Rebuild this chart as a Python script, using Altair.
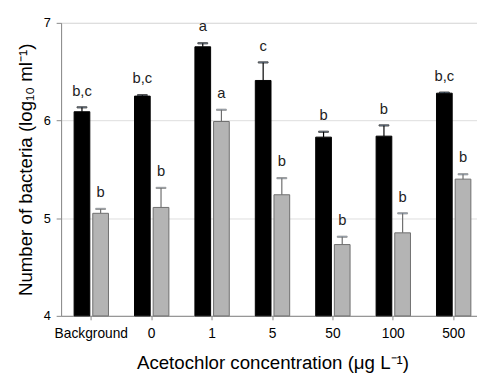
import altair as alt
import pandas as pd

categories = ["Background", "0", "1", "5", "50", "100", "500"]
series = ["Total", "Culturable"]
black_mean = [6.09, 6.25, 6.755, 6.41, 5.83, 5.84, 6.28]
black_err = [0.045, 0.01, 0.036, 0.185, 0.055, 0.11, 0.006]
black_letters = ["b,c", "b,c", "a", "c", "b", "b", "b,c"]
gray_mean = [5.05, 5.11, 5.99, 5.24, 4.73, 4.85, 5.40]
gray_err = [0.045, 0.20, 0.12, 0.17, 0.08, 0.20, 0.05]
gray_letters = ["b", "b", "a", "b", "b", "b", "b"]

rows = []
for i, c in enumerate(categories):
    rows.append(dict(cat=c, s=series[0], mean=black_mean[i], err=black_err[i],
                     top=black_mean[i] + black_err[i], lab=black_letters[i]))
    rows.append(dict(cat=c, s=series[1], mean=gray_mean[i], err=gray_err[i],
                     top=gray_mean[i] + gray_err[i], lab=gray_letters[i]))
df = pd.DataFrame(rows)

FONT = "Liberation Sans"

x_enc = alt.X("cat:N", sort=categories,
              scale=alt.Scale(range=[0, 430], paddingInner=0, paddingOuter=0),
              axis=alt.Axis(title="Acetochlor concentration (\u03bcg L\u207b\u00b9)",
                            labelAngle=0, tickSize=4, labelPadding=7,
                            titlePadding=14, labelFontSize=14, titleFontSize=19,
                            titleFontWeight="normal"))
xo_enc = alt.XOffset("s:N", sort=series,
                     scale=alt.Scale(paddingInner=0.158, paddingOuter=0.697))
y_scale = alt.Scale(domain=[4, 7], nice=False, zero=False)
series_fill = alt.Color("s:N", sort=series,
                        scale=alt.Scale(domain=series, range=["#000000", "#b4b4b4"]),
                        legend=None)
series_line = alt.Stroke("s:N", sort=series,
                         scale=alt.Scale(domain=series, range=["#000000", "#6e6e6e"]),
                         legend=None)

base = alt.Chart(df)

bars = base.mark_bar(strokeWidth=1).encode(
    x=x_enc, xOffset=xo_enc,
    y=alt.Y("mean:Q", scale=y_scale,
            axis=alt.Axis(title="Number of bacteria (log\u2081\u2080 ml\u207b\u00b9)",
                          values=[4, 5, 6, 7], format="d", tickSize=5, labelPadding=6,
                          titlePadding=8, labelFontSize=13, titleFontSize=19,
                          titleFontWeight="normal")),
    y2=alt.datum(4),
    color=series_fill, stroke=series_line,
)

rules = base.mark_rule(strokeWidth=1.2).encode(
    x=alt.X("cat:N", sort=categories), xOffset=xo_enc,
    y=alt.Y("mean:Q"), y2="top:Q", stroke=series_line,
)

caps = base.mark_tick(size=10, thickness=1.2).encode(
    x=alt.X("cat:N", sort=categories), xOffset=xo_enc,
    y=alt.Y("top:Q"), stroke=series_line,
)

labels = base.mark_text(font=FONT, fontSize=15, dy=-12, baseline="alphabetic",
                        color="#222222").encode(
    x=alt.X("cat:N", sort=categories), xOffset=xo_enc,
    y=alt.Y("top:Q"), text="lab:N",
)

chart = alt.layer(bars, rules, caps, labels).properties(
    width=423, height=298,
    autosize=alt.AutoSizeParams(type="none"),
    padding={"left": 54, "top": 12, "right": 0, "bottom": 55},
).configure_view(stroke=None).configure_axis(
    grid=False, domainColor="#000000", domainWidth=1.5, tickColor="#000000",
    tickWidth=1.2, labelColor="#222222", titleColor="#111111",
    labelFont=FONT, titleFont=FONT,
).configure(background="white")

chart.save("out.html", embed_options={"renderer": "svg", "actions": False})
